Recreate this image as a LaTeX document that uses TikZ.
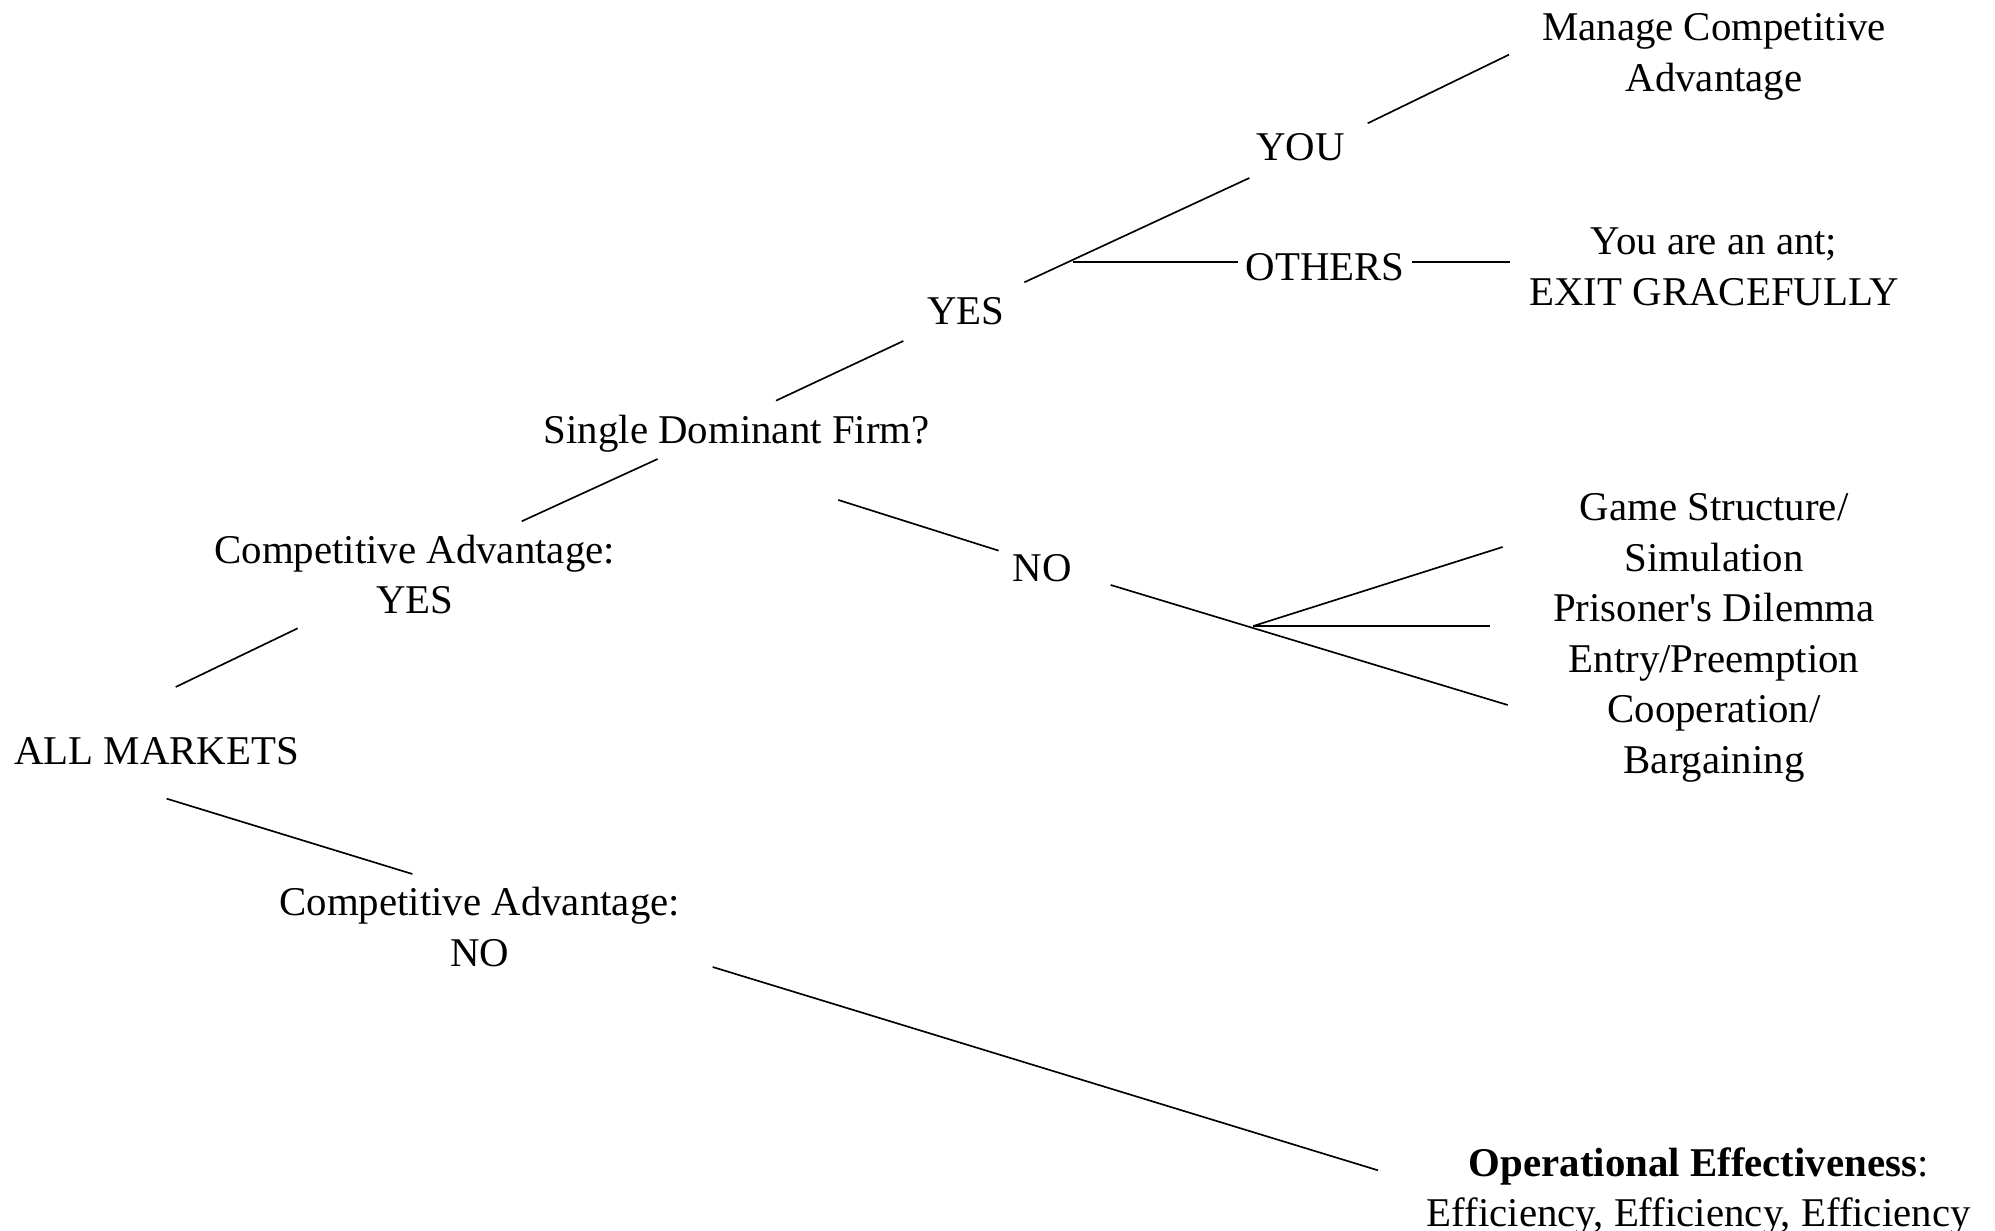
\documentclass[tikz,border=0pt]{standalone}
\usepackage{fontspec}
\setmainfont{Liberation Serif}[Ligatures=TeXOff]
\begin{document}
\begin{tikzpicture}[line join=bevel,
  lbl/.style={draw=none,align=center,inner sep=2bp,font=\fontsize{12.3}{15.2}\selectfont},
  edge/.style={black,line width=0.5pt}]
\useasboundingbox (0bp,0bp) rectangle (598.5bp,369.3bp);
%%
\node (manage) at (514.2bp,352.3bp) [lbl] {Manage Competitive\\Advantage};
  \node (you) at (390.1bp,325.0bp) [lbl] {YOU};
  \node (others) at (397.5bp,289.2bp) [lbl] {OTHERS};
  \node (ant) at (514.2bp,289.3bp) [lbl] {You are an ant;\\EXIT GRACEFULLY};
  \node (yes_top) at (289.7bp,275.8bp) [lbl] {YES};
  \node (single) at (221.0bp,239.3bp) [lbl] {Single Dominant Firm?};
  \node (ca_yes) at (124.4bp,197.0bp) [lbl] {Competitive Advantage:\\YES};
  \node (no_mid) at (312.6bp,198.8bp) [lbl] {NO};
  \node (games) at (514.2bp,177.9bp) [lbl] {Game Structure/\\Simulation\\Prisoner's Dilemma\\Entry/Preemption\\Cooperation/\\Bargaining};
  \node (all) at (47.0bp,143.8bp) [lbl] {ALL MARKETS};
  \node (ca_no) at (143.9bp,91.2bp) [lbl] {Competitive Advantage:\\NO};
  \node (opeff) at (509.6bp,11.9bp) [lbl] {\textbf{Operational Effectiveness}:\\Efficiency, Efficiency, Efficiency};
%
\coordinate (all_up) at (52.7bp,163.2bp);
  \coordinate (ca_yes_in) at (89.3bp,180.8bp);
  \coordinate (ca_yes_out) at (156.5bp,212.9bp);
  \coordinate (single_in) at (197.3bp,231.6bp);
  \coordinate (single_up) at (232.8bp,249.1bp);
  \coordinate (yes_in) at (271.0bp,267.0bp);
  \coordinate (yes_out) at (307.3bp,284.6bp);
  \coordinate (fork_yes) at (321.8bp,290.7bp);
  \coordinate (you_in) at (374.8bp,315.9bp);
  \coordinate (you_out) at (410.3bp,332.3bp);
  \coordinate (manage_in) at (452.7bp,352.9bp);
  \coordinate (ant_in) at (453.1bp,290.7bp);
  \coordinate (single_down) at (251.5bp,219.3bp);
  \coordinate (no_in) at (299.6bp,204.1bp);
  \coordinate (no_out) at (333.2bp,193.8bp);
  \coordinate (fork_no) at (376.0bp,181.5bp);
  \coordinate (games_a) at (450.8bp,205.2bp);
  \coordinate (games_b) at (447.0bp,181.5bp);
  \coordinate (games_c) at (452.3bp,157.8bp);
  \coordinate (all_down) at (50.0bp,129.7bp);
  \coordinate (ca_no_in) at (123.7bp,107.1bp);
  \coordinate (ca_no_out) at (213.8bp,79.2bp);
  \coordinate (opeff_in) at (413.4bp,18.2bp);
%
\draw [edge] (all_up) -- (ca_yes_in);
  \draw [edge] (ca_yes_out) -- (single_in);
  \draw [edge] (single_up) -- (yes_in);
  \draw [edge] (yes_out) -- (you_in);
  \draw [edge] (you_out) -- (manage_in);
  \draw [edge] (fork_yes) -- (fork_yes -| others.west);
  \draw [edge] (ant_in -| others.east) -- (ant_in);
  \draw [edge] (single_down) -- (no_in);
  \draw [edge] (no_out) -- (games_c);
  \draw [edge] (fork_no) -- (games_a);
  \draw [edge] (fork_no) -- (games_b);
  \draw [edge] (all_down) -- (ca_no_in);
  \draw [edge] (ca_no_out) -- (opeff_in);
%
\end{tikzpicture}
\end{document}
